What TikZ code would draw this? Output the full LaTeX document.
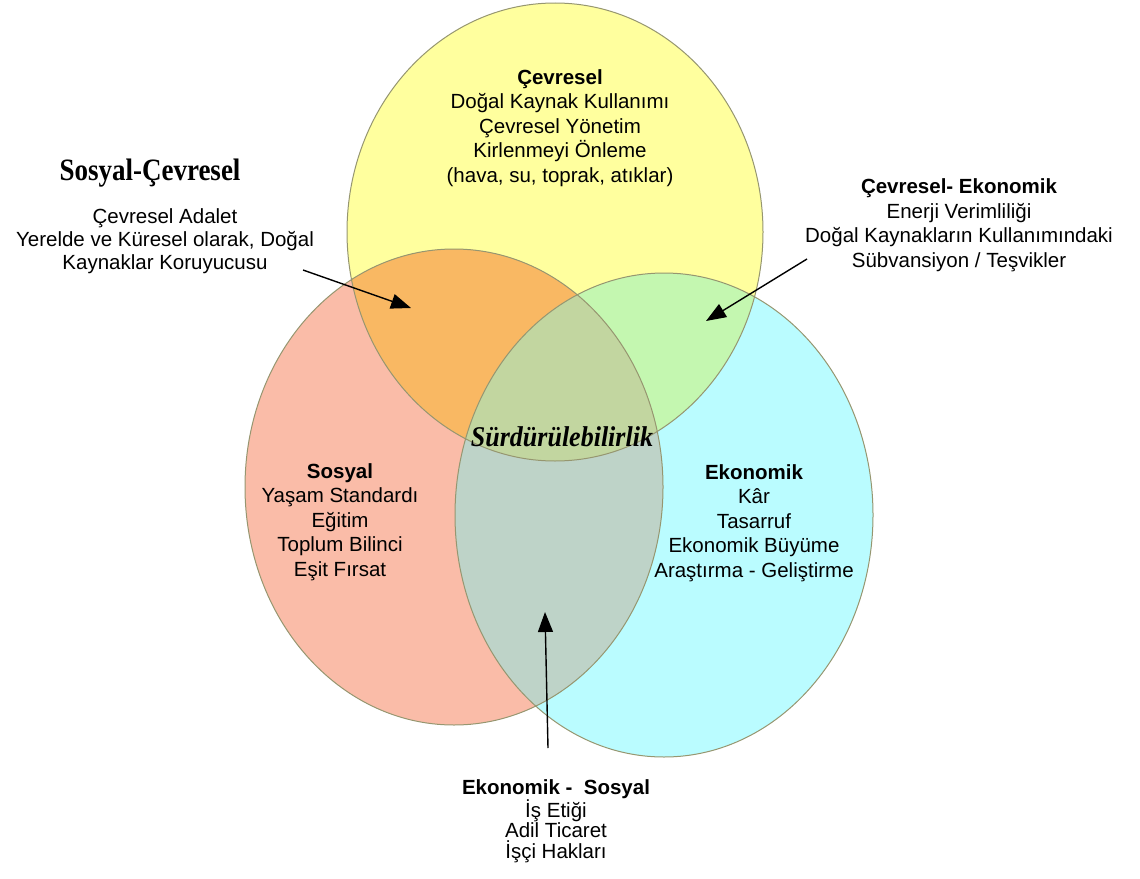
\documentclass[tikz,border=0pt]{standalone}
\usepackage{fontspec}
\setmainfont{Liberation Serif}
\newfontfamily\arialf{Liberation Sans}
\usetikzlibrary{arrows.meta}
\definecolor{cY}{RGB}{255,255,158}
\definecolor{cR}{RGB}{250,188,168}
\definecolor{cC}{RGB}{186,252,255}
\definecolor{cRY}{RGB}{249,184,99}
\definecolor{cYC}{RGB}{196,247,176}
\definecolor{cRC}{RGB}{190,211,200}
\definecolor{cAll}{RGB}{194,214,160}
\definecolor{cRim}{RGB}{150,150,112}
\begin{document}
\begin{tikzpicture}[x=1pt,y=-1pt,
  body/.style={font=\arialf\fontsize{20.5}{24.5}\selectfont, align=center, inner sep=0pt, text=black},
  ttl/.style={font=\bfseries\fontsize{27}{32}\selectfont, inner sep=0pt, text=black},
  arr/.style={-{Triangle[length=20pt,width=15pt]}, line width=1.4pt, draw=black},
  rim/.style={draw=cRim, line width=1pt}]
\useasboundingbox (0,0) rectangle (1140,878);
% base fills
\fill[cY] (555,232) ellipse [x radius=208pt, y radius=229pt];
\fill[cR] (454,487) ellipse [x radius=209pt, y radius=238pt];
\fill[cC] (664,515) ellipse [x radius=209pt, y radius=242pt];
% pairwise overlaps
\begin{scope}
  \clip (555,232) ellipse [x radius=208pt, y radius=229pt];
  \fill[cRY] (454,487) ellipse [x radius=209pt, y radius=238pt];
\end{scope}
\begin{scope}
  \clip (555,232) ellipse [x radius=208pt, y radius=229pt];
  \fill[cYC] (664,515) ellipse [x radius=209pt, y radius=242pt];
\end{scope}
\begin{scope}
  \clip (454,487) ellipse [x radius=209pt, y radius=238pt];
  \fill[cRC] (664,515) ellipse [x radius=209pt, y radius=242pt];
\end{scope}
\begin{scope}
  \clip (555,232) ellipse [x radius=208pt, y radius=229pt];
  \clip (454,487) ellipse [x radius=209pt, y radius=238pt];
  \fill[cAll] (664,515) ellipse [x radius=209pt, y radius=242pt];
\end{scope}
% outlines
\draw[rim] (555,232) ellipse [x radius=208pt, y radius=229pt];
\draw[rim] (454,487) ellipse [x radius=209pt, y radius=238pt];
\draw[rim] (664,515) ellipse [x radius=209pt, y radius=242pt];

% texts
\node[body] (cev) at (560,128) {\textbf{Çevresel}\\Doğal Kaynak Kullanımı\\Çevresel Yönetim\\Kirlenmeyi Önleme\\(hava, su, toprak, atıklar)};
\node[body] (sos) at (340,522) {\textbf{Sosyal}\\Yaşam Standardı\\Eğitim\\Toplum Bilinci\\Eşit Fırsat};
\node[body] (eko) at (754,523) {\textbf{Ekonomik}\\Kâr\\Tasarruf\\Ekonomik Büyüme\\Araştırma - Geliştirme};
\node[ttl] (sctitle) at (150,173) {\scalebox{1}[1.15]{Sosyal-Çevresel}};
\node[body, font=\arialf\fontsize{20.5}{23}\selectfont] (sc) at (165,241) {Çevresel Adalet\\Yerelde ve Küresel olarak, Doğal\\Kaynaklar Koruyucusu};
\node[body] (ce) at (959,225) {\textbf{Çevresel- Ekonomik}\\Enerji Verimliliği\\Doğal Kaynakların Kullanımındaki\\Sübvansiyon / Teşvikler};
\node[body, font=\arialf\fontsize{20.5}{20.5}\selectfont] (es) at (556,821) {\textbf{Ekonomik -\ \ Sosyal}\\İş Etiği\\Adil Ticaret\\İşçi Hakları};
\node[font=\bfseries\itshape\fontsize{26}{30}\selectfont, inner sep=0pt, text=black] (sur) at (562,437) {\scalebox{1}[1.1]{Sürdürülebilirlik}};

% arrows
\coordinate (scT) at (303,270);
\coordinate (scH) at (411,308);
\coordinate (ceT) at (807,259);
\coordinate (ceH) at (706,321);
\coordinate (esT) at (548,748);
\coordinate (esH) at (545,612);
\draw[arr] (scT) -- (scH);
\draw[arr] (ceT) -- (ceH);
\draw[arr] (esT) -- (esH);
\end{tikzpicture}
\end{document}
